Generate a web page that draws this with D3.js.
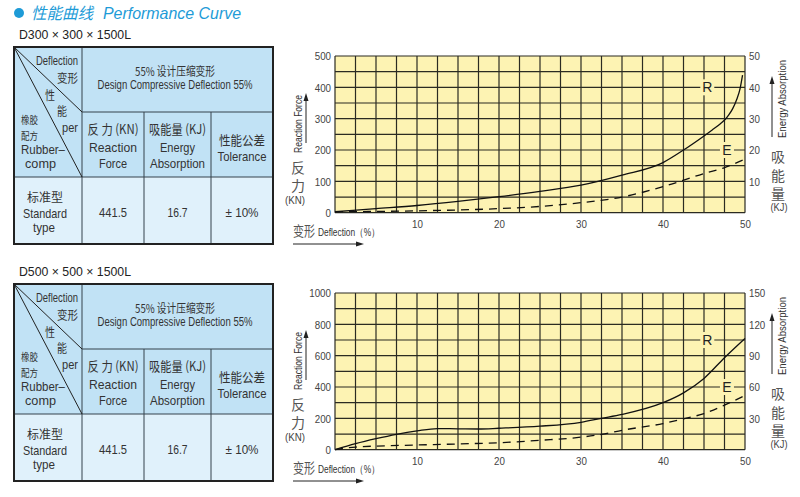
<!DOCTYPE html>
<html>
<head>
<meta charset="utf-8">
<script src="https://cdn.jsdelivr.net/npm/d3@7"></script>
<style>
  body { margin: 0; background: #fff; }
  svg text { font-family: "Liberation Sans", Arial, sans-serif; }
  .cjk { font-family: "Noto Sans CJK SC", sans-serif; }
</style>
</head>
<body>
<script>
// data
var models = ['D300 \u00d7 300 \u00d7 1500L', 'D500 \u00d7 500 \u00d7 1500L'];
var forceMax = [500, 1000];
var energyMax = [50, 150];
var forceTicks = [[0, 100, 200, 300, 400, 500], [0, 200, 400, 600, 800, 1000]];
var energyTicks = [[10, 20, 30, 40, 50], [30, 60, 90, 120, 150]];
var deflTicks = [10, 20, 30, 40, 50];

var topForceX = [0, 5, 10, 15, 20, 25, 30, 35, 40, 42.5, 45, 46, 47, 47.6, 48, 48.5, 49, 49.4, 49.7];
var topForceY = [3, 13, 23, 36, 51, 68, 88, 120, 160, 200, 245, 264, 284, 298, 311, 332, 362, 396, 439];
var topEnergyX = [0, 10, 20, 25, 30, 35, 40, 45, 47.5, 50];
var topEnergyY = [0.3, 0.6, 1.3, 2, 3.2, 5, 8.3, 12.5, 14.4, 17.1];

var botForceX = [0, 2.5, 5, 7.5, 10, 12.5, 15, 17.5, 20, 25, 30, 32.5, 35, 40, 42.5, 45, 47.5, 50];
var botForceY = [0, 38, 70, 98, 120, 135, 133, 132, 137, 150, 175, 200, 225, 300, 363, 455, 587, 710];
var botEnergyX = [0, 2.5, 10, 15, 20, 25, 30, 32.5, 35, 40, 42.5, 45, 47.5, 50];
var botEnergyY = [0, 2.5, 4.5, 5.5, 6.7, 9, 12, 14.7, 18.6, 25, 29.5, 34.6, 42.6, 52];

// label positions (deflection %, force value) for the R and E tags
var tagR = [[45.4, 400], [45.4, 700]];
var tagE = [[47.8, 200], [47.8, 400]];

var tableValues = ['441.5', '16.7', '\u00b1 10%'];

var forceX = [topForceX, botForceX], forceY = [topForceY, botForceY];
var energyX = [topEnergyX, botEnergyX], energyY = [topEnergyY, botEnergyY];

var width = 800, height = 497;
var svg = d3.select('body').append('svg')
  .attr('width', width)
  .attr('height', height);

var fit = function(sel, w) {
  if (w) sel.attr('textLength', w).attr('lengthAdjust', 'spacingAndGlyphs');
  return sel;
};

var squeeze = function(sel, f) {
  sel.each(function() {
    var w = this.getComputedTextLength();
    d3.select(this).attr('textLength', w * f).attr('lengthAdjust', 'spacingAndGlyphs');
  });
};

// title
svg.append('circle').attr('cx', 19).attr('cy', 13).attr('r', 5).attr('fill', '#1e9bd7');
fit(svg.append('text').attr('class', 'cjk').attr('x', 31).attr('y', 19)
  .attr('font-size', 16).attr('font-style', 'italic').attr('fill', '#1e9bd7')
  .text('性能曲线'), 62);
fit(svg.append('text').attr('x', 103).attr('y', 19)
  .attr('font-size', 17).attr('font-style', 'italic').attr('fill', '#1e9bd7')
  .text('Performance Curve'), 138);

var line = function(g, x1, y1, x2, y2, w, c) {
  g.append('line').attr('x1', x1).attr('y1', y1).attr('x2', x2).attr('y2', y2)
    .attr('stroke', c || '#34424c').attr('stroke-width', w || 1);
};

var txt = function(g, x, y, s, size, anchor, w, cls) {
  var t = g.append('text').attr('x', x).attr('y', y)
    .attr('font-size', size || 13).attr('text-anchor', anchor || 'middle')
    .attr('fill', '#333').attr('class', cls || null).text(s);
  return fit(t, w);
};

// several lines in one text element: rows of [x, y, string, size, width, cjk]
var block = function(g, rows, anchor) {
  var t = g.append('text').attr('text-anchor', anchor || 'middle').attr('fill', '#333');
  rows.forEach(function(r) {
    var s = t.append('tspan').attr('x', r[0]).attr('y', r[1]).attr('font-size', r[3]).text(r[2]);
    if (r[5]) s.style('font-family', '"Noto Sans CJK SC", sans-serif');
    fit(s, r[4]);
  });
  return t;
};

// vertical stacked CJK label (one text element)
var vtxt = function(g, x, y, s, size, gap) {
  return g.append('text').attr('class', 'cjk').attr('x', x).attr('y', y)
    .attr('font-size', size).attr('fill', '#555')
    .style('writing-mode', 'vertical-rl').style('letter-spacing', gap + 'px')
    .text(s);
};

var drawTable = function(g, off) {
  var cols = [14, 82, 144, 211, 273];
  var top = 47 + off, r1 = 112 + off, r2 = 177 + off, bot = 244 + off;

  g.append('rect').attr('x', 14).attr('y', top).attr('width', 259).attr('height', r2 - top).attr('fill', '#c1e2f5');
  g.append('rect').attr('x', 14).attr('y', r2).attr('width', 259).attr('height', bot - r2).attr('fill', '#e0f1fb');

  line(g, 82, top, 82, bot);
  line(g, 82, r1, 273, r1);
  line(g, 14, r2, 273, r2);
  line(g, 144, r1, 144, bot);
  line(g, 211, r1, 211, bot);
  line(g, 14, top, 82, r1, 1, '#222');
  line(g, 14, top, 82, r2, 1, '#222');
  g.append('rect').attr('x', 14).attr('y', top).attr('width', 259).attr('height', bot - top)
    .attr('fill', 'none').attr('stroke', '#222').attr('stroke-width', 2);

  // diagonal header cell
  txt(g, 78, top + 18, 'Deflection', 12, 'end', 42);
  txt(g, 78, top + 36, '变形', 12, 'end', 21, 'cjk');
  txt(g, 50, top + 53, '性', 12, 'middle', 10, 'cjk');
  txt(g, 62, top + 69, '能', 12, 'middle', 10, 'cjk');
  txt(g, 78, top + 85, 'per', 13, 'end', 16);
  block(g, [
    [21, top + 77, '橡胶', 10.5, 17, true],
    [21, top + 93, '配方', 10.5, 17, true],
    [21, top + 107, 'Rubber\u2013', 12.5, 44],
    [25, top + 121, 'comp', 12.5, 31]
  ], 'start');

  txt(g, 175, top + 29, '55% 设计压缩变形', 12, 'middle', 80, 'cjk');
  txt(g, 175, top + 42, 'Design Compressive Deflection 55%', 12.5, 'middle', 155);

  var c1 = (cols[1] + cols[2]) / 2, c2 = (cols[2] + cols[3]) / 2, c3 = (cols[3] + cols[4]) / 2;
  txt(g, c1, r1 + 22, '反 力 (KN)', 13, 'middle', 51, 'cjk');
  txt(g, c1, r1 + 40, 'Reaction', 13.5, 'middle', 48);
  txt(g, c1, r1 + 56, 'Force', 13.5, 'middle', 28);
  txt(g, c2, r1 + 22, '吸能量 (KJ)', 13, 'middle', 57, 'cjk');
  txt(g, c2, r1 + 40, 'Energy', 13.5, 'middle', 35);
  txt(g, c2, r1 + 56, 'Absorption', 13.5, 'middle', 55);
  txt(g, c3, r1 + 33, '性能公差', 13, 'middle', 46, 'cjk');
  txt(g, c3, r1 + 49, 'Tolerance', 13.5, 'middle', 49);

  block(g, [
    [45, r2 + 25, '标准型', 12, 36, true],
    [45, r2 + 40.5, 'Standard', 13, 44],
    [44, r2 + 55, 'type', 13, 22]
  ]);
  var vw = [28, 20, 33];
  tableValues.forEach(function(v, i) {
    txt(g, [c1, c2, c3][i], r2 + 40, v, 13.5, 'middle', vw[i]);
  });
};

var drawChart = function(g, k, off) {
  var top = 56 + off, bottom = 212.7 + off;
  var x = d3.scaleLinear().domain([0, 50]).range([335, 745]);
  var yL = d3.scaleLinear().domain([0, forceMax[k]]).range([bottom, top]);
  var yR = d3.scaleLinear().domain([0, energyMax[k]]).range([bottom, top]);

  g.append('rect').attr('x', x(0)).attr('y', top).attr('width', x(50) - x(0)).attr('height', bottom - top)
    .attr('fill', '#fdf3b3');

  g.selectAll('.vgrid').data(d3.range(0, 50.01, 2.5)).enter().append('line')
    .attr('x1', function(d) { return x(d); }).attr('x2', function(d) { return x(d); })
    .attr('y1', top).attr('y2', bottom).attr('stroke', '#2b2b22').attr('stroke-width', 1.2);
  g.selectAll('.hgrid').data(d3.range(0, 10.01, 1)).enter().append('line')
    .attr('x1', x(0)).attr('x2', x(50))
    .attr('y1', function(d) { return yL(d * forceMax[k] / 10); })
    .attr('y2', function(d) { return yL(d * forceMax[k] / 10); })
    .attr('stroke', '#2b2b22').attr('stroke-width', 1.2);

  // axes
  var styleAxis = function(a) {
    a.select('.domain').remove();
    a.selectAll('text').attr('font-size', 11.5).attr('fill', '#444')
      .style('font-family', '"Liberation Sans", Arial, sans-serif');
    a.selectAll('text').call(squeeze, 0.85);
  };
  g.append('g').attr('transform', 'translate(' + x(0) + ',0)')
    .call(d3.axisLeft(yL).tickValues(forceTicks[k]).tickFormat(d3.format('d')).tickSize(0).tickPadding(4))
    .call(styleAxis);
  g.append('g').attr('transform', 'translate(' + x(50) + ',0)')
    .call(d3.axisRight(yR).tickValues(energyTicks[k]).tickFormat(d3.format('d')).tickSize(0).tickPadding(4))
    .call(styleAxis);
  g.append('g').attr('transform', 'translate(0,' + bottom + ')')
    .call(d3.axisBottom(x).tickValues(deflTicks).tickSize(0).tickPadding(7))
    .call(styleAxis);

  // curves
  var fline = d3.line().curve(d3.curveMonotoneX)
    .x(function(d, i) { return x(forceX[k][i]); })
    .y(function(d) { return yL(d); });
  g.append('path').datum(forceY[k]).attr('d', fline)
    .attr('fill', 'none').attr('stroke', '#111').attr('stroke-width', 1.3);
  var eline = d3.line().curve(d3.curveMonotoneX)
    .x(function(d, i) { return x(energyX[k][i]); })
    .y(function(d) { return yR(d); });
  g.append('path').datum(energyY[k]).attr('d', eline)
    .attr('fill', 'none').attr('stroke', '#111').attr('stroke-width', 1.3)
    .attr('stroke-dasharray', '8,6');

  // R / E tags sitting on grid lines
  [['R', tagR[k]], ['E', tagE[k]]].forEach(function(l) {
    var lx = x(l[1][0]), ly = yL(l[1][1]);
    g.append('rect').attr('x', lx - 7).attr('y', ly - 8).attr('width', 14).attr('height', 16).attr('fill', '#fdf3b3');
    g.append('text').attr('x', lx).attr('y', ly + 5).attr('text-anchor', 'middle')
      .attr('font-size', 14).attr('fill', '#222').text(l[0]);
  });

  // left title
  fit(g.append('text').attr('transform', 'translate(302,' + (124 + off) + ') rotate(-90)')
    .attr('text-anchor', 'middle').attr('font-size', 10.5).attr('fill', '#333').text('Reaction Force'), 58);
  line(g, 306, 143 + off, 306, 99 + off, 1, '#222');
  g.append('path').attr('d', 'M303.5,' + (101 + off) + 'L306,' + (93 + off) + 'L308.5,' + (101 + off) + 'Z').attr('fill', '#222');
  vtxt(g, 298, 161 + off, '反力', 14, 4);
  txt(g, 295, 204 + off, '(KN)', 10, 'middle', 20).attr('fill', '#444');

  // right title
  fit(g.append('text').attr('transform', 'translate(786,' + (99 + off) + ') rotate(-90)')
    .attr('text-anchor', 'middle').attr('font-size', 10.5).attr('fill', '#333').text('Energy Absorption'), 78);
  line(g, 772, 137 + off, 772, 82 + off, 1, '#222');
  g.append('path').attr('d', 'M769.5,' + (84 + off) + 'L772,' + (76 + off) + 'L774.5,' + (84 + off) + 'Z').attr('fill', '#222');
  vtxt(g, 778, 150 + off, '吸能量', 14, 4.5);
  txt(g, 779, 211 + off, '(KJ)', 10, 'middle', 17).attr('fill', '#444');

  // deflection title
  txt(g, 293, 236 + off, '变形', 14, 'start', 22, 'cjk').attr('fill', '#555');
  txt(g, 318, 236 + off, 'Deflection（%）', 10.5, 'start', 62).attr('fill', '#333');
  line(g, 293, 244 + off, 358, 244 + off, 1, '#222');
  g.append('path').attr('d', 'M356,' + (241.5 + off) + 'L364,' + (244 + off) + 'L356,' + (246.5 + off) + 'Z').attr('fill', '#222');
};

models.forEach(function(m, k) {
  var off = k * 237;
  var g = svg.append('g');
  fit(g.append('text').attr('x', 19).attr('y', 39 + off).attr('font-size', 13.5).attr('fill', '#222')
    .text(m), 112);
  drawTable(g, off);
  drawChart(g, k, off);
});
</script>
</body>
</html>
